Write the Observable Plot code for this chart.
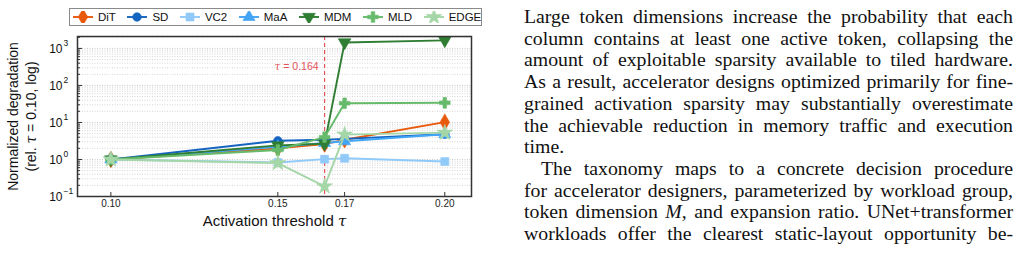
<!DOCTYPE html>
<html>
<head>
<meta charset="utf-8">
<script src="https://cdn.jsdelivr.net/npm/d3@7"></script>
<script src="https://cdn.jsdelivr.net/npm/@observablehq/plot@0.6"></script>
<style>
  html, body { margin: 0; padding: 0; background: #fff; }
  #page { position: relative; width: 1020px; height: 253px; overflow: hidden; }
  #chart { position: absolute; left: 0; top: 0; }
  #legend { position: absolute; left: 69px; top: 8px; width: 408px; height: 16px;
    border: 1px solid #8a8a8a; display: flex; align-items: center; padding-left: 3px;
    font-family: "Liberation Sans", Arial, sans-serif; font-size: 11.5px; color: #111; box-sizing: content-box; }
  #legend .item { display: flex; align-items: center; margin-right: 11.5px; }
  #legend svg { margin-right: 5px; }
  #text { position: absolute; left: 524px; top: 6px; width: 489px;
    font-family: "Liberation Serif", "DejaVu Serif", serif; font-size: 19.8px; line-height: 21.7px; color: #111; }
  #text div { text-align: justify; text-align-last: justify; }
  #text div.last { text-align-last: left; }
  #text div.indent { text-indent: 17px; }
</style>
</head>
<body>
<div id="page">
  <div id="chart"></div>
  <div id="legend"></div>
  <div id="text"></div>
</div>
<script>
// ---- data ----
const taus = [0.10, 0.15, 0.164, 0.17, 0.20];
const seriesNames = ["DiT", "SD", "VC2", "MaA", "MDM", "MLD", "EDGE"];
const ditValues  = [1, 2.0, 2.6, 3.4, 10.2];
const sdValues   = [1, 3.2, 3.4, 3.6, 4.8];
const vc2Values  = [1, 0.83, 1.02, 1.08, 0.88];
const maaValues  = [1, 2.2, 2.8, 3.1, 4.8];
const mdmValues  = [1, 2.4, 2.65, 1450, 1650];
const mldValues  = [1, 1.8, 4.0, 33, 34];
const edgeValues = [1, 0.8, 0.187, 4.7, 5.3];
const seriesColors = ["#e8590c", "#1565c0", "#90caf9", "#42a5f5", "#2e7d32", "#66bb6a", "#a5d6a7"];
const xTicks = [0.10, 0.15, 0.17, 0.20];
const yTicks = [0.1, 1, 10, 100, 1000];
const yTickExponents = ["\u22121", "0", "1", "2", "3"];
const tauThreshold = [0.164];
const tauLabel = "\u03c4 = 0.164";
const xLabel = "Activation threshold \u03c4";
const yLabel = "Normalized degradation\n(rel. \u03c4 = 0.10, log)";

const textLines = [
  "Large token dimensions increase the probability that each",
  "column contains at least one active token, collapsing the",
  "amount of exploitable sparsity available to tiled hardware.",
  "As a result, accelerator designs optimized primarily for fine-",
  "grained activation sparsity may substantially overestimate",
  "the achievable reduction in memory traffic and execution",
  "time.",
  "The taxonomy maps to a concrete decision procedure",
  "for accelerator designers, parameterized by workload group,",
  "token dimension <i>M</i>, and expansion ratio. UNet+transformer",
  "workloads offer the clearest static-layout opportunity be-"
];

// ---- symbols ----
const triangleDown = {
  draw(context, size) {
    const y = -Math.sqrt(size / (Math.sqrt(3) * 3));
    context.moveTo(0, -y * 2);
    context.lineTo(-Math.sqrt(3) * y, y);
    context.lineTo(Math.sqrt(3) * y, y);
    context.closePath();
  }
};
const symbolByName = {
  DiT: d3.symbolDiamond, SD: d3.symbolCircle, VC2: d3.symbolSquare, MaA: d3.symbolTriangle,
  MDM: triangleDown, MLD: d3.symbolCross, EDGE: d3.symbolStar
};
const radiusByName = { DiT: 5, SD: 4.3, VC2: 4.5, MaA: 4.5, MDM: 4.7, MLD: 4.5, EDGE: 5 };

const allValues = [ditValues, sdValues, vc2Values, maaValues, mdmValues, mldValues, edgeValues];
const rows = seriesNames.map((name, si) => taus.map((t, i) => ({ name, tau: t, value: allValues[si][i] })));

const yMinor = [];
for (const base of [0.1, 1, 10, 100, 1000]) for (let k = 2; k <= 9; k++) { const v = base * k; if (v < 2100) yMinor.push(v); }

const marks = [
  Plot.gridY(yMinor, { stroke: "#bdbdbd", strokeOpacity: 0.8, strokeDasharray: "1,1.5", strokeWidth: 0.8 }),
  Plot.gridY(yTicks, { stroke: "#bdbdbd", strokeOpacity: 0.9, strokeDasharray: "1,1.5", strokeWidth: 0.9 }),
  Plot.axisY(yMinor, { anchor: "left", tickSize: -3, tickFormat: () => "", label: null, stroke: "#333" }),
  Plot.axisY(yTicks, { anchor: "left", tickSize: -5, tickFormat: () => "", label: null, stroke: "#333" }),
  Plot.text(yTicks, { y: d => d, frameAnchor: "left", text: () => "10", textAnchor: "end", dx: -15, dy: 1, fontSize: 12, fill: "#111", fontFamily: "Liberation Sans, Arial, sans-serif" }),
  Plot.text(yTicks, { y: d => d, frameAnchor: "left", text: (d, i) => yTickExponents[i], textAnchor: "start", dx: -14, dy: -5, fontSize: 8.5, fill: "#111", fontFamily: "Liberation Sans, Arial, sans-serif" }),
  Plot.axisX(xTicks, { anchor: "bottom", tickSize: -4, tickFormat: () => "", label: null, stroke: "#333" }),
  Plot.axisX(xTicks, { anchor: "bottom", tickSize: 0, tickPadding: 3, tickFormat: d3.format(".2f"), label: null, fontSize: 10, fill: "#222" }),
  Plot.text([xLabel], { frameAnchor: "bottom", text: d => d, dy: 29, fontSize: 15, fill: "#111", fontFamily: "Liberation Sans, Arial, sans-serif" }),
  Plot.text([yLabel], { frameAnchor: "left", text: d => d, rotate: -90, textAnchor: "middle", dx: -56, fontSize: 14, lineHeight: 1.28, fill: "#111", fontFamily: "Liberation Sans, Arial, sans-serif" }),
  Plot.ruleX(tauThreshold, { stroke: "#e2535a", strokeDasharray: "4,3", strokeWidth: 1.2 }),
  Plot.text(tauThreshold, { x: d => d, frameAnchor: "top", text: () => tauLabel, textAnchor: "end", dx: -6, dy: 26, fontSize: 10.5, fill: "#e2535a", fontFamily: "Liberation Sans, Arial, sans-serif" })
];
rows.forEach((data, si) => {
  const name = seriesNames[si];
  marks.push(Plot.line(data, { x: "tau", y: "value", stroke: seriesColors[si], strokeWidth: 1.9 }));
  marks.push(Plot.dot(data, { x: "tau", y: "value", symbol: symbolByName[name], r: radiusByName[name], fill: seriesColors[si], stroke: seriesColors[si], strokeWidth: 0.6 }));
});
marks.push(Plot.frame({ stroke: "#333", strokeWidth: 1.5 }));

const chart = Plot.plot({
  width: 490, height: 253,
  marginLeft: 77, marginRight: 19, marginTop: 36, marginBottom: 57,
  style: { fontFamily: "Liberation Sans, Arial, sans-serif", background: "transparent", overflow: "visible" },
  x: { domain: [0.09, 0.208], axis: null },
  y: { type: "log", domain: [0.1, 2100], axis: null },
  marks
});
document.getElementById("chart").appendChild(chart);

// italic tau in labels
d3.select(chart).selectAll("text, tspan").each(function () {
  if (this.children.length) return;
  const s = this.textContent;
  if (!s.includes("\u03c4")) return;
  const node = d3.select(this);
  node.text(null);
  s.split(/(\u03c4)/).forEach(part => {
    if (!part) return;
    const t = node.append("tspan").text(part);
    if (part === "\u03c4") t.attr("font-style", "italic").attr("font-family", "DejaVu Serif, serif");
  });
});

// legend
const legend = d3.select("#legend");
seriesNames.forEach((name, i) => {
  const item = legend.append("div").attr("class", "item");
  const svg = item.append("svg").attr("width", 20).attr("height", 12);
  svg.append("line").attr("x1", 0).attr("x2", 20).attr("y1", 6).attr("y2", 6).attr("stroke", seriesColors[i]).attr("stroke-width", 1.9);
  const r = radiusByName[name];
  svg.append("path").attr("transform", "translate(10,6)")
    .attr("d", d3.symbol(symbolByName[name], Math.PI * r * r)())
    .attr("fill", seriesColors[i]).attr("stroke", seriesColors[i]).attr("stroke-width", 0.6);
  item.append("span").text(name);
});

// text
const tbox = d3.select("#text");
textLines.forEach((line, i) => {
  const div = tbox.append("div").html(line);
  if (i === 6) div.attr("class", "last");
  if (i === 7) div.attr("class", "indent");
});
</script>
</body>
</html>
